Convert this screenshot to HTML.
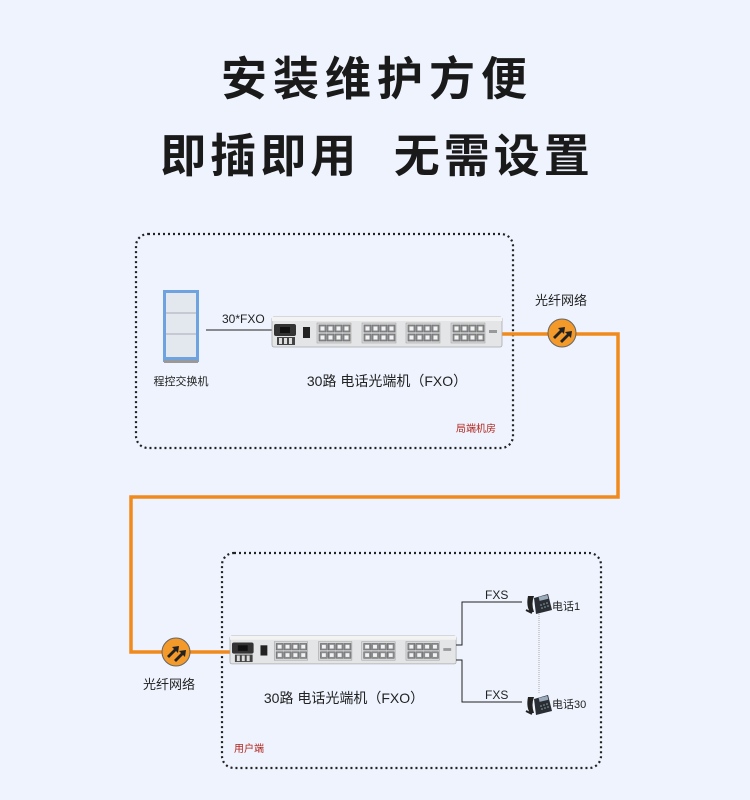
<!DOCTYPE html>
<html><head><meta charset="utf-8"><style>
html,body{margin:0;padding:0;background:#eef3fd;}
svg{display:block}
text{font-family:"Liberation Sans","Noto Sans CJK SC",sans-serif;}
</style></head><body>
<svg width="750" height="800" viewBox="0 0 750 800" xmlns="http://www.w3.org/2000/svg">
<defs>
<g id="port"><rect width="7" height="7" fill="#8a8d90" stroke="#666" stroke-width="0.6"/><rect x="1.5" y="1.5" width="4" height="4" fill="#f2f2f2"/></g>
<g id="grp">
<rect x="-1" y="6" width="34" height="20" fill="#d8d9da" stroke="#999" stroke-width="0.5"/>
<use href="#port" x="1" y="8"/><use href="#port" x="9" y="8"/><use href="#port" x="17" y="8"/><use href="#port" x="25" y="8"/>
<use href="#port" x="1" y="17"/><use href="#port" x="9" y="17"/><use href="#port" x="17" y="17"/><use href="#port" x="25" y="17"/>
</g>
<g id="dev">
<rect x="0" y="0" width="230" height="30" rx="2" fill="#e4e5e6" stroke="#aaa" stroke-width="0.8"/>
<rect x="0" y="0" width="230" height="4" fill="#f3f3f3"/>
<rect x="2" y="7" width="22" height="12" rx="2" fill="#333"/>
<rect x="8" y="10" width="10" height="6" fill="#111"/>
<rect x="5" y="20" width="18" height="8" fill="#444"/>
<rect x="7" y="21" width="3" height="6" fill="#ddd"/><rect x="12" y="21" width="3" height="6" fill="#ddd"/><rect x="17" y="21" width="3" height="6" fill="#ddd"/>
<rect x="31" y="10" width="7" height="11" fill="#222"/>
<use href="#grp" x="46"/><use href="#grp" x="91"/><use href="#grp" x="135"/><use href="#grp" x="180"/>
<rect x="217" y="13" width="8" height="3" fill="#999"/>
</g>
<g id="fib">
<circle r="14" fill="#f39a2a" stroke="#666" stroke-width="1"/>
<path d="M-9,4 L-2,-3 L-4,-5 L3,-6 L2,1 L0,-1 L-7,6Z M-2,8 L5,1 L3,-1 L10,-2 L9,5 L7,3 L0,10Z" fill="#222"/>
</g>
<g id="phone">
<path d="M-10,-6 Q-12,4 -8,10 L-4,10 Q-7,2 -4,-6Z" fill="#222"/>
<path d="M-4,-4 L10,-8 L14,8 L-2,12Z" fill="#2a2d33"/>
<rect x="1" y="-6" width="9" height="4" fill="#9ab" transform="rotate(-14 5 -4)"/>
<g fill="#8aa"><circle cx="3" cy="3" r="0.8"/><circle cx="6" cy="2" r="0.8"/><circle cx="9" cy="1" r="0.8"/><circle cx="4" cy="6" r="0.8"/><circle cx="7" cy="5" r="0.8"/><circle cx="10" cy="4" r="0.8"/></g>
<path d="M-12,8 L-6,11" stroke="#222" stroke-width="2"/>
</g>
</defs>

<text x="377" y="95" text-anchor="middle" font-size="46" font-weight="bold" fill="#1a1a1a" letter-spacing="6">安装维护方便</text>
<text x="377" y="172" text-anchor="middle" font-size="46" font-weight="bold" fill="#1a1a1a" letter-spacing="4" xml:space="preserve">即插即用  无需设置</text>

<rect x="136" y="234" width="377" height="214" rx="12" fill="none" stroke="#222" stroke-width="2.2" stroke-dasharray="2 3"/>
<rect x="222" y="553" width="379" height="215" rx="12" fill="none" stroke="#222" stroke-width="2.2" stroke-dasharray="2 3"/>

<polyline points="498,334 618,334 618,497 131,497 131,652 232,652" fill="none" stroke="#f08a1c" stroke-width="3.5"/>
<use href="#fib" x="562" y="333"/>
<use href="#fib" x="176" y="652"/>
<text x="535" y="305" font-size="13" fill="#222">光纤网络</text>
<text x="143" y="689" font-size="13" fill="#222">光纤网络</text>

<rect x="163" y="290" width="36" height="72" fill="#6fa3e0"/>
<rect x="166" y="293" width="30" height="64" fill="#e3e8ee"/>
<line x1="166" y1="313" x2="196" y2="313" stroke="#aab"/><line x1="166" y1="334" x2="196" y2="334" stroke="#aab"/>
<rect x="164" y="360" width="34" height="3" fill="#999"/>
<text x="181" y="385" text-anchor="middle" font-size="11" fill="#222">程控交换机</text>
<line x1="206" y1="330" x2="272" y2="330" stroke="#222" stroke-width="1"/>
<text x="222" y="323" font-size="12" fill="#222">30*FXO</text>

<use href="#dev" x="272" y="317"/>
<text x="387" y="386" text-anchor="middle" font-size="14" fill="#222">30路  电话光端机（FXO）</text>
<text x="456" y="432" font-size="10" fill="#b3261e">局端机房</text>

<g transform="translate(230,636) scale(0.983,0.93)"><use href="#dev"/></g>
<text x="344" y="703" text-anchor="middle" font-size="14" fill="#222">30路  电话光端机（FXO）</text>
<text x="234" y="752" font-size="10" fill="#b3261e">用户端</text>

<polyline points="456,645 462,645 462,602 522,602" fill="none" stroke="#222" stroke-width="1"/>
<polyline points="456,660 462,660 462,702 522,702" fill="none" stroke="#222" stroke-width="1"/>
<text x="485" y="599" font-size="12" fill="#222">FXS</text>
<text x="485" y="699" font-size="12" fill="#222">FXS</text>
<line x1="539" y1="612" x2="539" y2="694" stroke="#aaa" stroke-width="1" stroke-dasharray="1 1"/>
<use href="#phone" x="538" y="602"/>
<use href="#phone" x="538" y="703"/>
<text x="552" y="610" font-size="11" fill="#222">电话1</text>
<text x="552" y="708" font-size="11" fill="#222">电话30</text>
</svg>
</body></html>
